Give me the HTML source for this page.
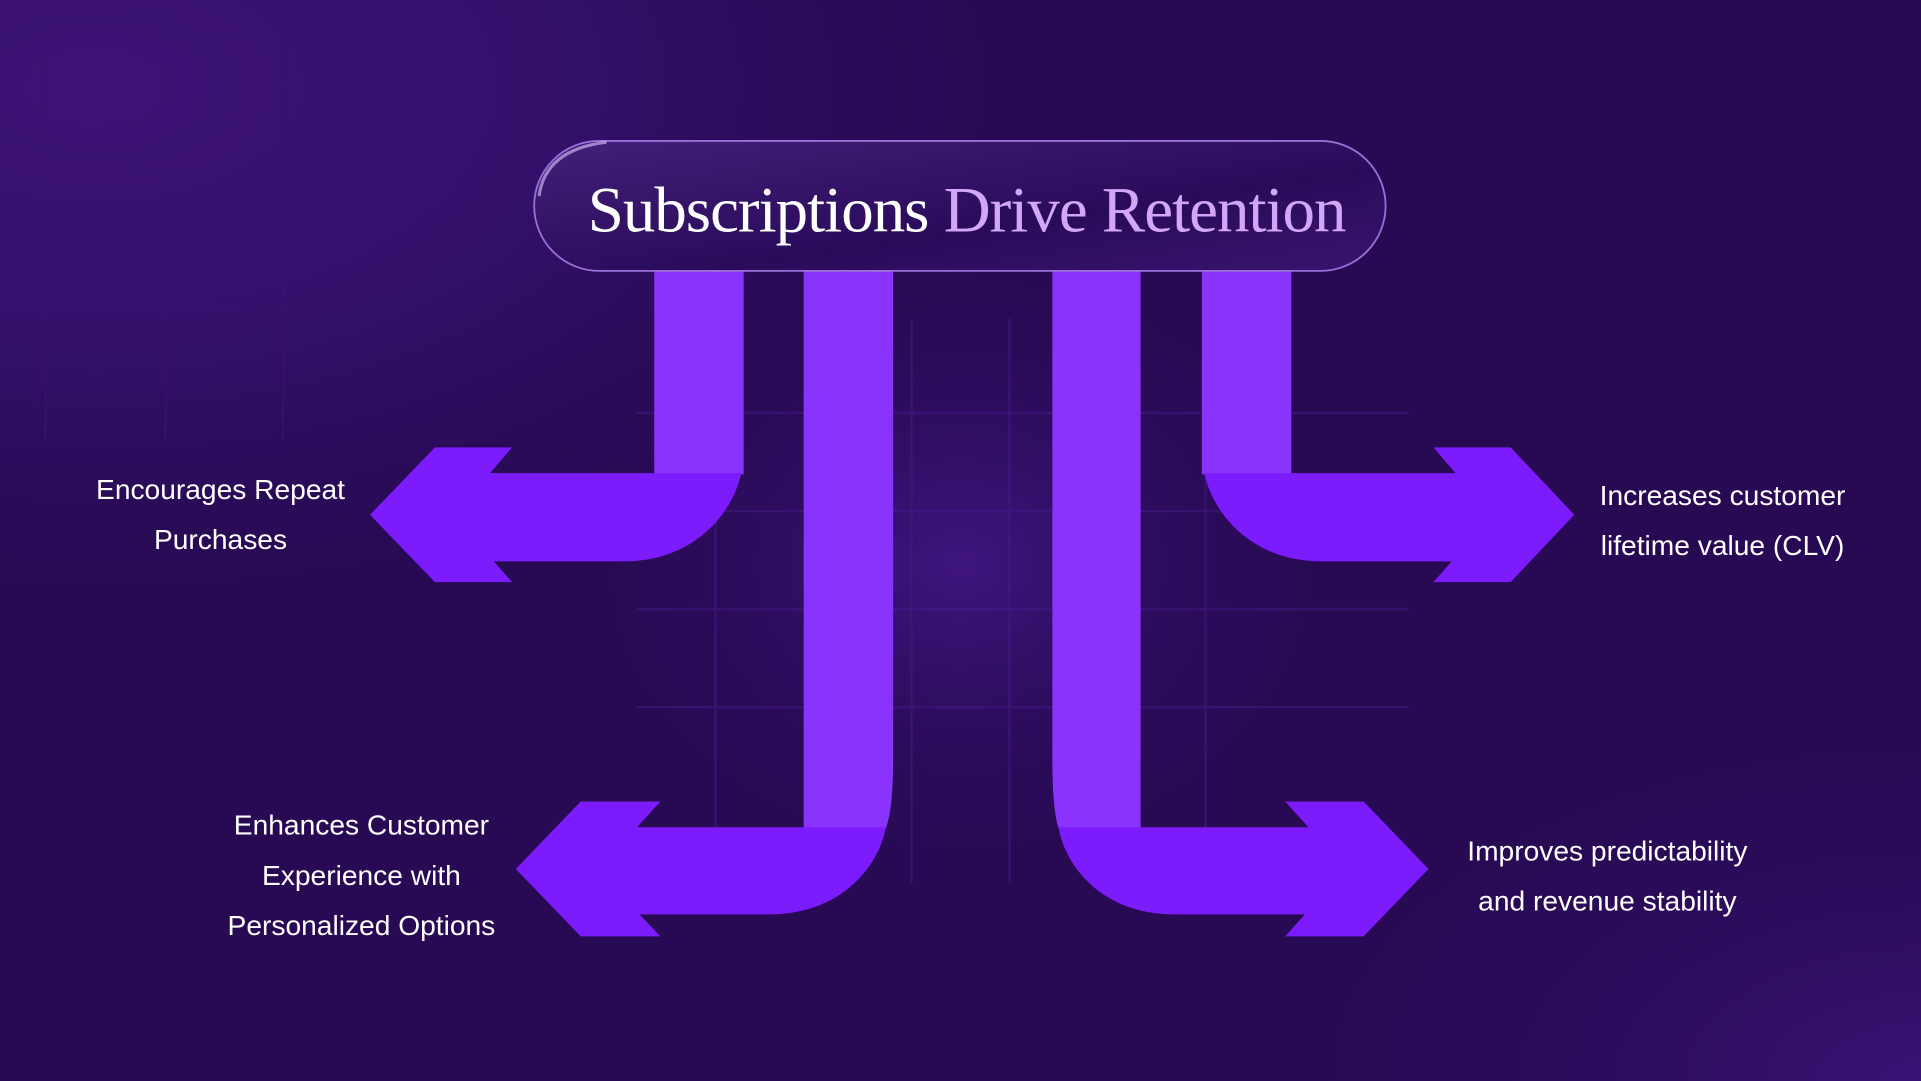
<!DOCTYPE html>
<html><head><meta charset="utf-8"><style>
html,body{margin:0;padding:0;background:#280a52;}
svg{display:block;}
</style></head><body>
<svg width="1921" height="1081" viewBox="0 0 1568 882" preserveAspectRatio="none" xmlns="http://www.w3.org/2000/svg">
<defs>
<radialGradient id="tl" cx="0.05" cy="0.08" r="0.5">
<stop offset="0" stop-color="#3d1275"/><stop offset="0.5" stop-color="#33106a"/><stop offset="1" stop-color="#280a54" stop-opacity="0"/>
</radialGradient>
<radialGradient id="br" cx="1" cy="1" r="0.35">
<stop offset="0" stop-color="#3a1275"/><stop offset="1" stop-color="#280a54" stop-opacity="0"/>
</radialGradient>
<radialGradient id="ctr" cx="0.5" cy="0.5" r="0.5">
<stop offset="0" stop-color="#45188a" stop-opacity="0.8"/><stop offset="1" stop-color="#280a54" stop-opacity="0"/>
</radialGradient>
<linearGradient id="pill" x1="0" y1="0" x2="1" y2="1">
<stop offset="0" stop-color="#43207a"/><stop offset="0.6" stop-color="#2a0b5a"/><stop offset="1" stop-color="#3a1470"/>
</linearGradient>
</defs>
<rect width="1568" height="882" fill="#280a54"/>
<rect width="1568" height="882" fill="url(#tl)"/>
<rect width="1568" height="882" fill="url(#br)"/>
<ellipse cx="784" cy="460" rx="320" ry="260" fill="url(#ctr)"/>
<g stroke="#4a1c8f" stroke-width="2" opacity="0.45">
<line x1="520" y1="417" x2="1150" y2="417"/><line x1="520" y1="497" x2="1150" y2="497"/>
<line x1="520" y1="577" x2="1150" y2="577"/><line x1="520" y1="337" x2="1150" y2="337"/>
<line x1="584" y1="260" x2="584" y2="720"/><line x1="664" y1="260" x2="664" y2="720"/>
<line x1="744" y1="260" x2="744" y2="720"/><line x1="824" y1="260" x2="824" y2="720"/>
<line x1="904" y1="260" x2="904" y2="720"/><line x1="984" y1="260" x2="984" y2="720"/>
</g>
<g stroke="#3a1470" stroke-width="2" opacity="0.5">
<line x1="0" y1="28" x2="240" y2="28"/><line x1="0" y1="140" x2="240" y2="140"/><line x1="0" y1="252" x2="240" y2="252"/>
<line x1="37" y1="0" x2="37" y2="360"/><line x1="135" y1="0" x2="135" y2="360"/><line x1="231" y1="0" x2="231" y2="360"/>
</g>
<g fill="#8a33fc">
<rect x="534" y="221" width="73" height="166"/>
<path d="M656,221 H729 V620 Q729,660 723,676 H656 Z"/>
<path d="M859,221 H931 V676 H864 Q859,660 859,620 Z"/>
<rect x="981" y="221" width="73" height="166"/>
</g>
<g fill="#7c1bfb">
<path d="M302,420 L355,365 L418,365 L400,386 L605,386 C598,420 565,458 510,458 L403,458 L418,475 L355,475 Z"/>
<path d="M1285,420 L1233,365 L1170,365 L1188,386 L983,386 C990,420 1023,458 1078,458 L1185,458 L1170,475 L1233,475 Z"/>
<path d="M421,709 L474,654 L539,654 L520,675 L723,675 C718,705 688,746 628,746 L522,746 L539,764 L474,764 Z"/>
<path d="M1166,709 L1113,654 L1049,654 L1068,675 L864,675 C869,705 898,746 958,746 L1065,746 L1049,764 L1113,764 Z"/>
</g>
<rect x="436" y="115" width="695" height="106" rx="53" fill="url(#pill)" stroke="#9a6fd8" stroke-width="1.5"/>
<path d="M440,160 Q445,122 495,116" stroke="#c9b0f0" stroke-width="2.5" fill="none" opacity="0.7"/>
<text x="789" y="189" text-anchor="middle" font-family="Liberation Serif, serif" font-size="53" letter-spacing="-0.8"><tspan fill="#ffffff">Subscriptions </tspan><tspan fill="#d3a6f7">Drive Retention</tspan></text>
<g fill="#ffffff" font-family="Liberation Sans, sans-serif" font-size="23" text-anchor="middle">
<text x="180" y="407">Encourages Repeat</text>
<text x="180" y="448">Purchases</text>
<text x="1406" y="412">Increases customer</text>
<text x="1406" y="453">lifetime value (CLV)</text>
<text x="295" y="681">Enhances Customer</text>
<text x="295" y="722">Experience with</text>
<text x="295" y="763">Personalized Options</text>
<text x="1312" y="702">Improves predictability</text>
<text x="1312" y="743">and revenue stability</text>
</g>
</svg>
</body></html>
